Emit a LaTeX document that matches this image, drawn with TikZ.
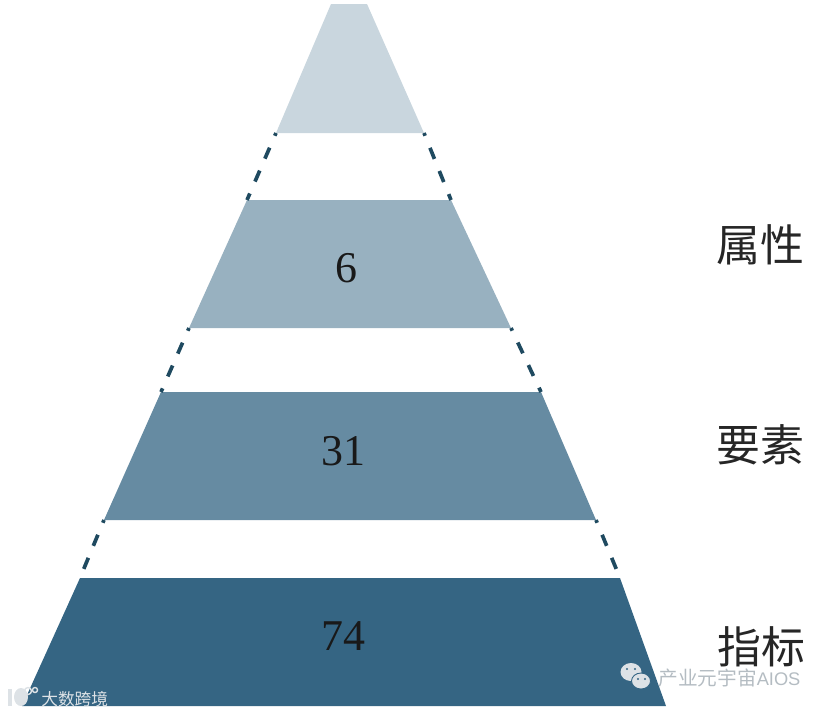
\documentclass[tikz,border=0pt]{standalone}
\usepackage{fontspec}
\usepackage{xcolor}
\setmainfont{Liberation Serif}
\newfontfamily\cjk{Noto Sans CJK SC}
\newfontfamily\marksf{Liberation Sans}
\usetikzlibrary{positioning}
\definecolor{tierA}{HTML}{C9D6DE}
\definecolor{tierB}{HTML}{98B1C0}
\definecolor{tierC}{HTML}{668BA2}
\definecolor{tierD}{HTML}{356583}
\definecolor{edgeblue}{HTML}{1F4A60}
\definecolor{markgray}{HTML}{DDE2E6}
\definecolor{marktext}{HTML}{B4BCC2}
\tikzset{
  count/.style={font=\fontsize{25}{25}\selectfont,text=black!90},
  levelname/.style={font=\cjk\fontsize{25}{25}\selectfont,text=black!85},
  watermark/.style={font=\cjk\fontsize{9.5}{10}\selectfont,text=markgray,inner sep=0pt},
  gapline/.style={edgeblue,line width=2.1pt,dash pattern=on 6.8pt off 7.4pt,dash phase=5.1pt},
}
\begin{document}
\begin{tikzpicture}[x=0.02cm,y=-0.02cm]
    \useasboundingbox (0,0) rectangle (830,714);
    % the four tiers, corners named tl,tr,bl,br
    \foreach \n/\col/\ya/\xa/\xb/\yb/\xc/\xd in {
        A/tierA/4/331/367/133/276/424,
        B/tierB/200/247/451/328/189/511,
        C/tierC/392/161/541/520/104/596,
        D/tierD/578/80/620/706/22/666}{
      \coordinate (tl\n) at (\xa,\ya);
      \coordinate (tr\n) at (\xb,\ya);
      \coordinate (bl\n) at (\xc,\yb);
      \coordinate (br\n) at (\xd,\yb);
      \fill[\col] (tl\n) -- (tr\n) -- (br\n) -- (bl\n) -- cycle;
    }
    \foreach \u/\v in {A/B,B/C,C/D}{
      \draw[gapline] (bl\u) -- (tl\v);
      \draw[gapline] (br\u) -- (tr\v);
    }
    \node[count] (six) at (346,268) {6};
    \node[count] (thirtyone) at (343,451) {31};
    \node[count] (seventyfour) at (343,636) {74};
    \node[levelname] (shuxing) at (760,245) {属性};
    \node[levelname] (yaosu) at (760,445) {要素};
    \node[levelname] (zhibiao) at (761,647) {指标};
    % watermarks
    \node[watermark,anchor=west] (dashuju) at (41,699) {大数跨境};
    \node[watermark,anchor=west,text=marktext,font=\cjk\fontsize{11.2}{12}\selectfont] (aios) at (658,678)
      {产业元宇宙{\marksf\fontsize{10.4}{12}\selectfont AIOS}};
    \fill[markgray] (631,672) ellipse (10.5 and 9);
    \fill[markgray,draw=tierD,line width=0.5pt] (641,681) ellipse (9.5 and 8);
    \foreach \x/\y in {627/669,635/669,638/679,645/679}
      \fill[tierD] (\x,\y) circle (1.2);
    \fill[markgray] (8,689) rectangle (12,706);
    \fill[markgray] (21,697) ellipse (7 and 9);
    \draw[markgray,line width=0.8pt] (28,691) circle (3.5);
    \draw[markgray,line width=0.8pt] (35,690) circle (2.5);
\end{tikzpicture}
\end{document}
